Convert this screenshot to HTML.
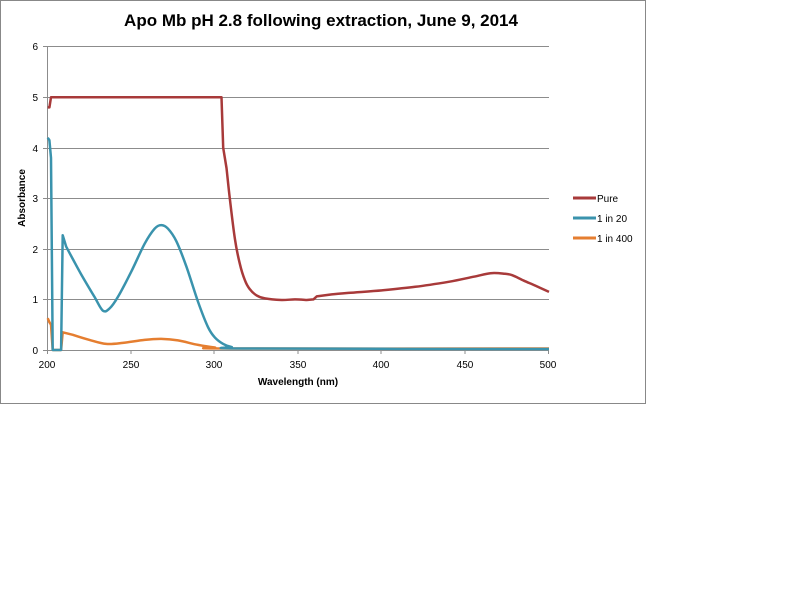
<!DOCTYPE html>
<html><head><meta charset="utf-8"><style>
body{margin:0;background:#fff;width:800px;height:600px;overflow:hidden}
svg{position:absolute;left:0;top:0}
text{font-family:"Liberation Sans",sans-serif}
</style></head><body>
<svg width="800" height="600" xmlns="http://www.w3.org/2000/svg" id="s">
<rect x="0.5" y="0.5" width="645" height="403" fill="#fff" stroke="#888"/>
<g stroke="#8c8c8c" stroke-width="1">
<line x1="47" y1="46.5" x2="549" y2="46.5"/>
<line x1="47" y1="97.5" x2="549" y2="97.5"/>
<line x1="47" y1="148.5" x2="549" y2="148.5"/>
<line x1="47" y1="198.5" x2="549" y2="198.5"/>
<line x1="47" y1="249.5" x2="549" y2="249.5"/>
<line x1="47" y1="299.5" x2="549" y2="299.5"/>
<line x1="47" y1="350.5" x2="549" y2="350.5"/>
<line x1="47.5" y1="46" x2="47.5" y2="354"/>
<line x1="43" y1="46.5" x2="47" y2="46.5"/><line x1="43" y1="97.5" x2="47" y2="97.5"/>
<line x1="43" y1="148.5" x2="47" y2="148.5"/><line x1="43" y1="198.5" x2="47" y2="198.5"/>
<line x1="43" y1="249.5" x2="47" y2="249.5"/><line x1="43" y1="299.5" x2="47" y2="299.5"/>
<line x1="43" y1="350.5" x2="47" y2="350.5"/>
<line x1="131" y1="350" x2="131" y2="354"/><line x1="214" y1="350" x2="214" y2="354"/>
<line x1="298" y1="350" x2="298" y2="354"/><line x1="381" y1="350" x2="381" y2="354"/>
<line x1="465" y1="350" x2="465" y2="354"/><line x1="548.5" y1="350" x2="548.5" y2="354"/>
</g>
<g font-size="10" fill="#000" text-anchor="end">
<text x="38" y="50">6</text><text x="38" y="101">5</text><text x="38" y="152">4</text>
<text x="38" y="202">3</text><text x="38" y="253">2</text><text x="38" y="303">1</text><text x="38" y="354">0</text>
</g>
<g font-size="10" fill="#000" text-anchor="middle">
<text x="47" y="368">200</text><text x="131" y="368">250</text><text x="214" y="368">300</text>
<text x="298" y="368">350</text><text x="381" y="368">400</text><text x="465" y="368">450</text><text x="548" y="368">500</text>
</g>
<text x="298" y="385" font-size="10" font-weight="bold" text-anchor="middle">Wavelength (nm)</text>
<text transform="translate(25,198) rotate(-90)" font-size="10" font-weight="bold" text-anchor="middle">Absorbance</text>
<text x="321" y="26" font-size="17" font-weight="bold" text-anchor="middle">Apo Mb pH 2.8  following extraction, June 9, 2014</text>
<g stroke-width="3">
<line x1="573" y1="198" x2="596" y2="198" stroke="#a83a3a"/>
<line x1="573" y1="218" x2="596" y2="218" stroke="#3a93ad"/>
<line x1="573" y1="238" x2="596" y2="238" stroke="#e57e30"/>
</g>
<g font-size="10"><text x="597" y="202">Pure</text><text x="597" y="222">1 in 20</text><text x="597" y="242">1 in 400</text></g>
<path id="p3" fill="none" stroke="#e57e30" stroke-width="2.5" stroke-linejoin="round"/>
<path id="p2" fill="none" stroke="#3a93ad" stroke-width="2.5" stroke-linejoin="round"/>
<path id="p1" fill="none" stroke="#a83a3a" stroke-width="2.5" stroke-linejoin="round"/>
</svg>
<script>
function X(w){return 47.7+(w-200)*1.671}
function Y(a){return 350-50.55*a}
function d(pts,sharp){
  var P=pts.map(p=>[X(p[0]),Y(p[1]),p[0]]);
  var s='M'+P[0][0].toFixed(1)+' '+P[0][1].toFixed(1);
  for(var i=0;i<P.length-1;i++){
    var a=P[i],b=P[i+1];
    if(sharp.indexOf(a[2])>=0||sharp.indexOf(b[2])>=0){s+=' L'+b[0].toFixed(1)+' '+b[1].toFixed(1);continue;}
    var p0=P[i-1]&&sharp.indexOf(P[i-1][2])<0?P[i-1]:a, p3=P[i+2]&&sharp.indexOf(P[i+2][2])<0?P[i+2]:b;
    var c1=[a[0]+(b[0]-p0[0])/6,a[1]+(b[1]-p0[1])/6], c2=[b[0]-(p3[0]-a[0])/6,b[1]-(p3[1]-a[1])/6];
    s+=' C'+c1.map(v=>v.toFixed(1)).join(' ')+' '+c2.map(v=>v.toFixed(1)).join(' ')+' '+b[0].toFixed(1)+' '+b[1].toFixed(1);
  }
  return s;
}
var pure=[[200,4.8],[201,4.8],[202,5],[304,5],[305,4.0],[307,3.6],[309,3.0],[312,2.2],[315,1.7],[318,1.38],[321,1.2],[325,1.08],[330,1.02],[340,0.99],[348,1.0],[355,0.99],[359,1.0],[361,1.06],[370,1.1],[380,1.13],[400,1.18],[420,1.25],[440,1.35],[455,1.45],[465,1.52],[473,1.51],[478,1.48],[485,1.37],[492,1.27],[500,1.15]];
var t=[[200,4.2],[201,4.15],[202,3.8],[203,0],[208,0],[209,2.27],[211,2.05],[215,1.8],[220,1.5],[228,1.05],[233,0.78],[237,0.82],[242,1.05],[250,1.55],[258,2.1],[264,2.4],[268,2.47],[272,2.4],[277,2.15],[283,1.65],[290,0.95],[296,0.45],[300,0.25],[305,0.12],[310,0.06],[320,0.03],[500,0.02]];
var o=[[200,0.63],[201,0.55],[202,0.5],[203,0],[208,0],[209,0.35],[215,0.3],[225,0.2],[235,0.12],[245,0.14],[258,0.2],[268,0.22],[278,0.19],[290,0.1],[300,0.05],[310,0.03],[500,0.03]];
document.getElementById('p1').setAttribute('d',d(pure,[200,201,202,304,305,359,361]));
document.getElementById('p2').setAttribute('d',d(t,[202,203,208,209]));
document.getElementById('p3').setAttribute('d',d(o,[202,203,208,209]));
</script>
</body></html>
